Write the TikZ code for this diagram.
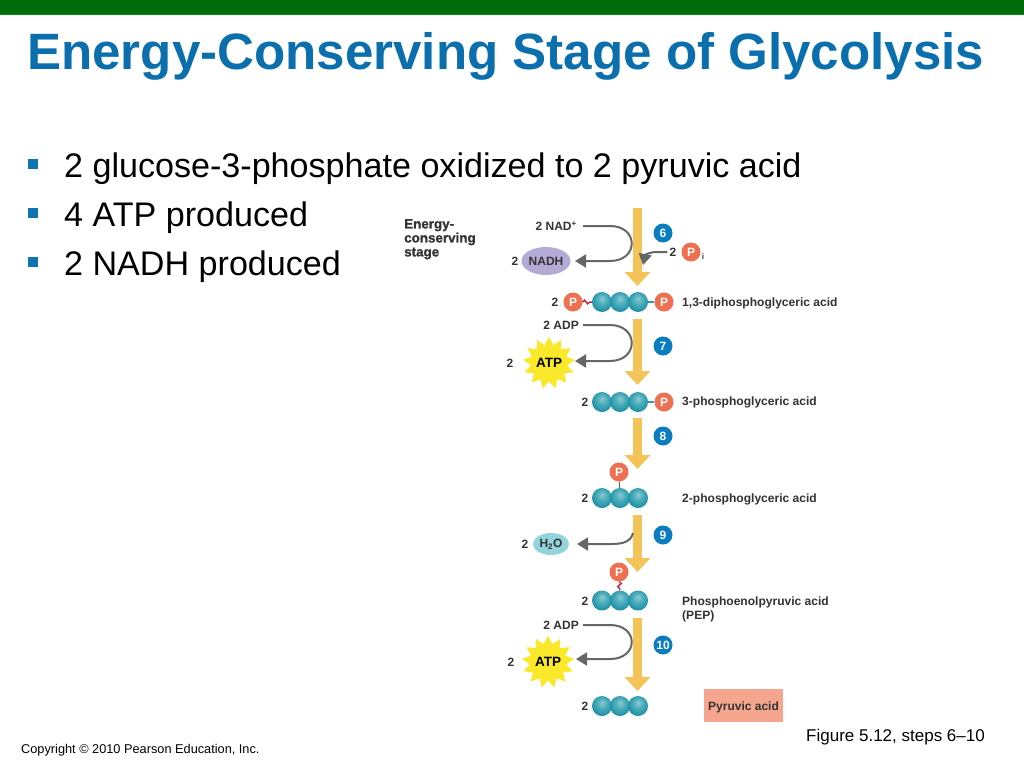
\documentclass[tikz,border=0pt]{standalone}
\usepackage{fontspec}
\setmainfont{Liberation Sans}
\newfontface\heavyface[FakeBold=1.2]{Liberation Sans Bold}
\usetikzlibrary{arrows.meta,shapes.geometric,decorations.pathmorphing}
\definecolor{barG}{HTML}{006B0A}
\definecolor{barL}{HTML}{0C8A18}
\definecolor{titleB}{HTML}{0B6FAD}
\definecolor{bulB}{HTML}{0E75B0}
\definecolor{txtD}{HTML}{333333}
\definecolor{flowY}{HTML}{F5C458}
\definecolor{arrG}{HTML}{666666}
\definecolor{numB}{HTML}{0A7DC0}
\definecolor{phosO}{HTML}{EE7050}
\definecolor{nadhV}{HTML}{B3ABD6}
\definecolor{waterC}{HTML}{93D3DE}
\definecolor{starY}{HTML}{F9E92A}
\definecolor{pyrO}{HTML}{F6A68E}
\definecolor{wavyR}{HTML}{C8264C}
\definecolor{beadT}{HTML}{2A9DB0}
\definecolor{beadA}{HTML}{8CCBD3}
\definecolor{beadB}{HTML}{4FAEBD}
\definecolor{beadC}{HTML}{2093A5}
\definecolor{beadD}{HTML}{157F91}
\pgfdeclareradialshading{beadshade}{\pgfpoint{0bp}{9bp}}{%
 color(0bp)=(beadA);
 color(12bp)=(beadB);
 color(26bp)=(beadC);
 color(50bp)=(beadD)}
\tikzset{
 flow/.style={draw=flowY,line width=9.5pt,-{Triangle[width=25pt,length=14pt]}},
 grayline/.style={draw=arrG,line width=2pt,-{Triangle[width=13pt,length=11pt]}},
 bead/.style={circle,minimum size=20pt,inner sep=0pt,shading=beadshade},
 phos/.style={circle,fill=phosO,minimum size=19pt,inner sep=0pt,text=white,font=\bfseries\fontsize{12}{12}\selectfont},
 num/.style={circle,fill=numB,minimum size=19pt,inner sep=0pt,text=white,font=\bfseries\fontsize{12}{12}\selectfont},
 lab/.style={text=txtD,inner sep=0pt,font=\bfseries\fontsize{12.05}{14}\selectfont,anchor=west},
 cnt/.style={text=txtD,inner sep=0pt,font=\bfseries\fontsize{12}{14}\selectfont},
 atpstar/.style={star,star points=13,star point ratio=1.42,minimum size=50pt,inner sep=0pt,fill=starY,text=black,font=\bfseries\fontsize{13.5}{12}\selectfont},
 bullettext/.style={inner sep=0pt,anchor=base west,text=black,font=\fontsize{34.1}{36}\selectfont},
 bulletmark/.style={fill=bulB,minimum size=10pt,inner sep=0pt},
 bond/.style={draw=beadT,line width=1.5pt},
 wavy/.style={draw=wavyR,line width=1.5pt,decorate,decoration={snake,amplitude=1.8pt,segment length=6pt}},
}
\begin{document}
\begin{tikzpicture}[x=1pt,y=-1pt]
\useasboundingbox (0,0) rectangle (1024,768);
\fill[white] (0,0) rectangle (1024,768);
\fill[barG] (0,0) rectangle (1024,15);
\fill[barL] (0,14) rectangle (1024,15);
\node[inner sep=0pt,anchor=base west,text=titleB,font=\bfseries\fontsize{51.1}{56}\selectfont] (title) at (27,69) {Energy-Conserving Stage of Glycolysis};
\node[bulletmark] (b1) at (33,164) {};
\node[bulletmark] (b2) at (33,213) {};
\node[bulletmark] (b3) at (33,262) {};
\node[bullettext] (t1) at (64,177) {2 glucose-3-phosphate oxidized to 2 pyruvic acid};
\node[bullettext] (t2) at (64,226) {4 ATP produced};
\node[bullettext] (t3) at (64,275) {2 NADH produced};
\node[inner sep=0pt,anchor=west,text=black,font=\fontsize{17}{19}\selectfont] (fig) at (806,737.5) {Figure 5.12, steps 6–10};
\node[inner sep=0pt,anchor=west,text=black,font=\fontsize{12.75}{14}\selectfont] (copy) at (21,750) {Copyright © 2010 Pearson Education, Inc.};
% stage label
\node[inner sep=0pt,anchor=north west,align=left,text=txtD,font=\heavyface\fontsize{13.4}{14}\selectfont] (stage) at (404,219) {Energy-\\conserving\\stage};
% flow arrows
\coordinate (f6a) at (637.5,208); \coordinate (f6b) at (637.5,286);
\coordinate (f7a) at (637.5,319); \coordinate (f7b) at (637.5,385);
\coordinate (f8a) at (637.5,418); \coordinate (f8b) at (637.5,469);
\coordinate (f9a) at (637.5,515); \coordinate (f9b) at (637.5,572);
\coordinate (f10a) at (637.5,618); \coordinate (f10b) at (637.5,691);
\draw[flow] (f6a) -- (f6b);
\draw[flow] (f7a) -- (f7b);
\draw[flow] (f8a) -- (f8b);
\draw[flow] (f9a) -- (f9b);
\draw[flow] (f10a) -- (f10b);
% step numbers
\node[num] (n6) at (663,233) {6};
\node[num] (n7) at (663,346) {7};
\node[num] (n8) at (663,436) {8};
\node[num] (n9) at (663,535) {9};
\node[num] (n10) at (663,645) {10};
% row 1
\node[cnt] (c1) at (555,302) {2};
\node[phos] (p1l) at (573,302) {P};
\node[bead] (r1a) at (602,302) {};
\node[bead] (r1b) at (620,302) {};
\node[bead] (r1c) at (638,302) {};
\node[phos] (p1r) at (664,302) {P};
\draw[bond] (r1c) -- (p1r);
\draw[wavy] (p1l) -- (r1a);
\node[lab] (l1) at (682,303) {1,3-diphosphoglyceric acid};
% row 2
\node[cnt] (c2) at (585,402) {2};
\node[bead] (r2a) at (602,402) {};
\node[bead] (r2b) at (620,402) {};
\node[bead] (r2c) at (638,402) {};
\node[phos] (p2r) at (664,402) {P};
\draw[bond] (r2c) -- (p2r);
\node[lab] (l2) at (682,402) {3-phosphoglyceric acid};
% row 3
\node[cnt] (c3) at (585,498) {2};
\node[bead] (r3a) at (602,498) {};
\node[bead] (r3b) at (620,498) {};
\node[bead] (r3c) at (638,498) {};
\node[phos] (p3) at (619,472) {P};
\draw[draw=arrG,line width=1pt] (p3) -- (r3b);
\node[lab] (l3) at (682,499) {2-phosphoglyceric acid};
% row 4
\node[cnt] (c4) at (585,601) {2};
\node[bead] (r4a) at (602,600.5) {};
\node[bead] (r4b) at (620,600.5) {};
\node[bead] (r4c) at (638,600.5) {};
\node[phos] (p4) at (619,572) {P};
\draw[wavy] (p4) -- (r4b);
\node[lab,align=left] (l4) at (682,609) {Phosphoenolpyruvic acid\\(PEP)};
% row 5
\node[cnt] (c5) at (585,706) {2};
\node[bead] (r5a) at (602,706) {};
\node[bead] (r5b) at (620,706) {};
\node[bead] (r5c) at (638,706) {};
\node[fill=pyrO,minimum width=79pt,minimum height=33pt,inner sep=0pt,text height=9pt,text depth=0pt,text=txtD,font=\bfseries\fontsize{12}{14}\selectfont] (pyr) at (743.5,705.5) {Pyruvic acid};
% step 6 side
\node[cnt,anchor=east] (nad) at (577,226) {2 NAD\textsuperscript{+}};
\node[ellipse,fill=nadhV,minimum width=48pt,minimum height=28pt,inner sep=0pt,text=txtD,font=\bfseries\fontsize{12}{14}\selectfont] (nadh) at (546,261) {NADH};
\node[cnt] (c6) at (515,261) {2};
\coordinate (nadtip) at (575,261);
\draw[grayline,shorten <=6pt] (nad.east) -- (610,226) .. controls (639,226) and (639,261) .. (610,261) -- (nadtip);
\node[cnt] (c6b) at (673,252) {2};
\node[phos] (pi) at (691,252) {P};
\node[inner sep=0pt,text=txtD,font=\bfseries\fontsize{8}{8}\selectfont] (isub) at (703,257) {i};
\coordinate (pitip) at (643,265);
\draw[grayline] (c6b.west) ++(-2,0) -- (656,252) .. controls (650,252) and (645,255) .. (pitip);
% step 7 side
\node[cnt,anchor=east] (adp1) at (579,325) {2 ADP};
\node[atpstar] (atp1) at (549,363) {ATP};
\node[cnt] (c7) at (510,363) {2};
\coordinate (atptip1) at (575,361);
\draw[grayline,shorten <=4pt] (adp1.east) -- (610,325) .. controls (639,325) and (639,361) .. (610,361) -- (atptip1);
% step 9 side
\node[ellipse,fill=waterC,minimum width=36pt,minimum height=22pt,inner sep=0pt,text=txtD,font=\bfseries\fontsize{12}{14}\selectfont] (water) at (551,544) {H\textsubscript{2}O};
\node[cnt] (c9) at (525,544) {2};
\coordinate (w0) at (633,533);
\coordinate (watertip) at (577,544);
\draw[grayline] (w0) .. controls (631,541) and (624,544) .. (612,544) -- (watertip);
% step 10 side
\node[cnt,anchor=east] (adp2) at (579,625) {2 ADP};
\node[atpstar] (atp2) at (548,662) {ATP};
\node[cnt] (c10) at (511,662) {2};
\coordinate (atptip2) at (576,659);
\draw[grayline,shorten <=4pt] (adp2.east) -- (610,625) .. controls (639,625) and (639,659) .. (610,659) -- (atptip2);
\end{tikzpicture}
\end{document}
